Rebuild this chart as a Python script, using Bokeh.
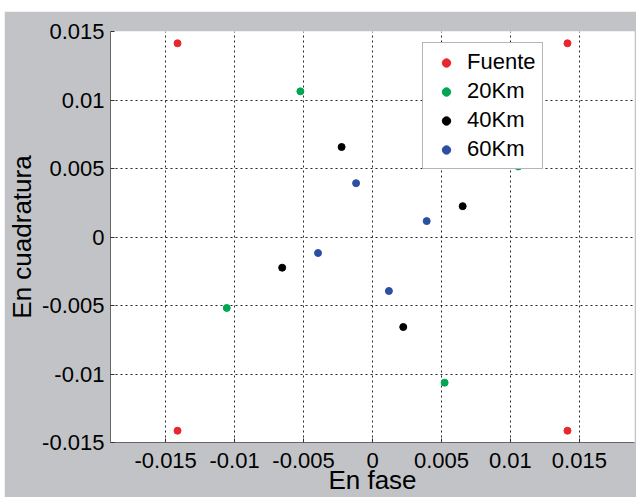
from bokeh.plotting import figure
from bokeh.models import FixedTicker, Legend, LegendItem, Spacer
from bokeh.layouts import column, row
from bokeh.embed import file_html
from bokeh.resources import INLINE

# --- data ---
fuente_x = [-0.01414, 0.01414, -0.01414, 0.01414]
fuente_y = [0.01414, 0.01414, -0.01414, -0.01414]

km20_x = [-0.00523, 0.01057, 0.00523, -0.01057]
km20_y = [0.01063, 0.00515, -0.01063, -0.00518]

km40_x = [-0.00224, 0.00654, 0.00223, -0.00655]
km40_y = [0.00657, 0.00225, -0.00657, -0.00224]

km60_x = [-0.00119, 0.00393, 0.00119, -0.00395]
km60_y = [0.00393, 0.00116, -0.00394, -0.00117]

series_names = ["Fuente", "20Km", "40Km", "60Km"]
ticks = [-0.015, -0.01, -0.005, 0, 0.005, 0.01, 0.015]
tick_labels = ["-0.015", "-0.01", "-0.005", "0", "0.005", "0.01", "0.015"]
x_title = "En fase"
y_title = "En cuadratura"

FONT = "Liberation Sans"
GRAY = "#c2c3c6"

p = figure(width=632, height=486, x_range=(-0.019, 0.019), y_range=(-0.015, 0.015),
           output_backend="svg", toolbar_location=None,
           min_border_left=106, min_border_right=2, min_border_top=20, min_border_bottom=54,
           background_fill_color="white", border_fill_color=GRAY, outline_line_color=None)

colors = ["#e8262d", "#00a651", "#000000", "#2b4fa3"]
data = [(fuente_x, fuente_y), (km20_x, km20_y), (km40_x, km40_y), (km60_x, km60_y)]
renderers = []
for (xs, ys), c in zip(data, colors):
    r = p.scatter(xs, ys, size=7, color=c, marker="circle")
    renderers.append(r)

for ax in (p.xaxis[0], p.yaxis[0]):
    ax.ticker = FixedTicker(ticks=ticks)
    ax.major_label_overrides = {t: l for t, l in zip(ticks, tick_labels)}
    ax.major_label_text_font = FONT
    ax.major_label_text_font_size = "22px"
    ax.major_label_text_color = "black"
    ax.axis_label_text_font = FONT
    ax.axis_label_text_font_size = "26px"
    ax.axis_label_text_font_style = "normal"
    ax.axis_label_text_color = "black"
    ax.axis_line_color = "#666666"
    ax.major_tick_in = 4
    ax.major_tick_out = 0
    ax.major_tick_line_color = "#333333"
    ax.minor_tick_line_color = None

p.xaxis.axis_label = x_title
p.yaxis.axis_label = y_title
p.xaxis.major_label_standoff = 10
p.yaxis.major_label_standoff = 6
p.xaxis.axis_label_standoff = -6
p.yaxis.axis_label_standoff = 2

for g in (p.xgrid[0], p.ygrid[0]):
    g.ticker = FixedTicker(ticks=ticks)
    g.grid_line_color = "black"
    g.grid_line_dash = "2 3"
    g.grid_line_width = 1
    g.grid_line_alpha = 0.85

items = [LegendItem(label=n, renderers=[r]) for n, r in zip(series_names, renderers)]
legend = Legend(items=items, location=(312, 273))
legend.label_text_font = FONT
legend.label_text_font_size = "22px"
legend.label_text_color = "black"
legend.glyph_width = 34
legend.glyph_height = 21
legend.label_height = 21
legend.spacing = 3
legend.padding = 6
legend.margin = 0
legend.label_standoff = 4
legend.border_line_color = "#6b6b6b"
legend.border_line_width = 1.5
legend.background_fill_color = "white"
legend.background_fill_alpha = 1
p.add_layout(legend, "center")

layout = column(Spacer(height=11), row(Spacer(width=4), p))
open("out.html", "w").write(file_html(layout, INLINE))
